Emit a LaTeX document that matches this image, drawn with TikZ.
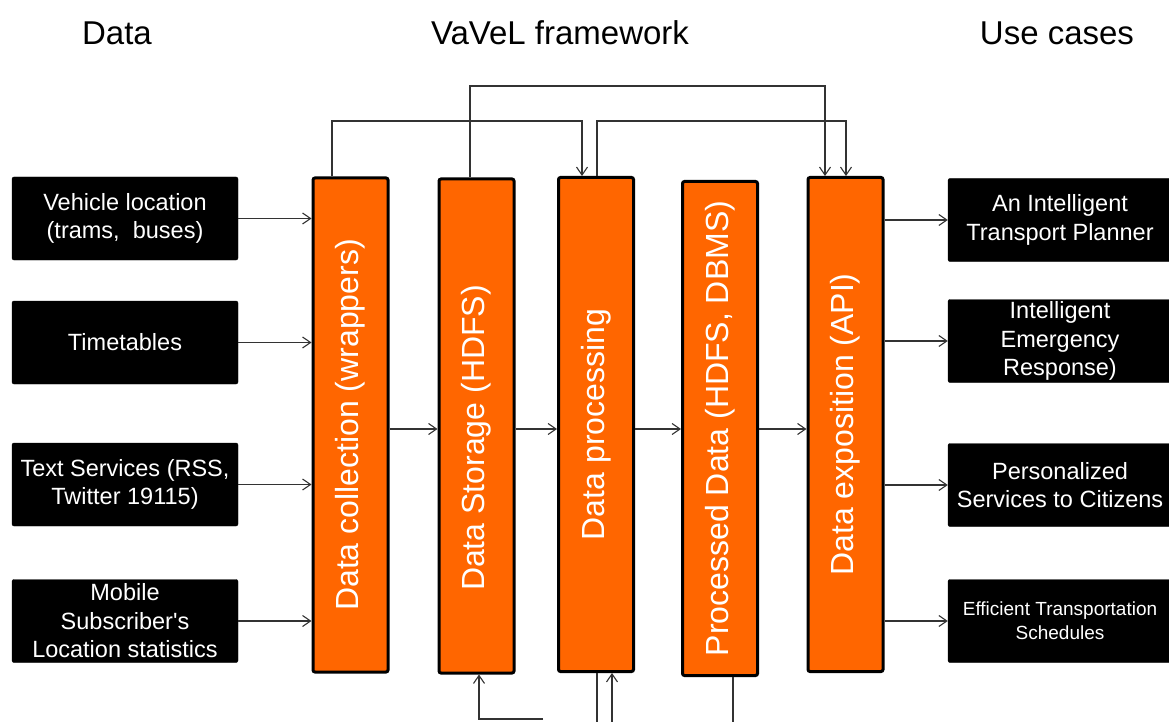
\documentclass[tikz,border=0pt]{standalone}
\usepackage{fontspec}
\setmainfont{Liberation Sans}[Ligatures=TeXOff]
\usetikzlibrary{arrows.meta}
\definecolor{vorange}{HTML}{FF6600}
\definecolor{wire}{HTML}{333333}
\tikzset{
  srcbox/.style={fill=black, draw=black, rounded corners=2pt, text=white, align=center,
    minimum width=226pt, minimum height=83pt, inner sep=2pt,
    font=\fontsize{23.5}{28.5}\selectfont},
  stage/.style={fill=vorange, draw=black, line width=3pt, rounded corners=2pt,
    minimum width=75pt, minimum height=494pt, inner sep=0pt},
  stagelabel/.style={text=white, rotate=90, font=\fontsize{32}{36}\selectfont},
  header/.style={font=\fontsize{33}{38}\selectfont},
  arr/.style={draw=wire, line width=1.2pt, -{Straight Barb[length=8pt,width=11pt,line width=1.1pt]}},
  wire/.style={draw=wire, line width=1.2pt}
}
\begin{document}
\begin{tikzpicture}[x=1pt, y=-1pt]
\useasboundingbox (0,0) rectangle (1169,722);

% column headers
\node[header] (hdata) at (117,33) {Data};
\node[header] (hfw)   at (560,33) {VaVeL framework};
\node[header] (huse)  at (1057,33) {Use cases};

% data sources
\node[srcbox] (L1) at (125,218.5) {Vehicle location\\(trams,\ \ buses)};
\node[srcbox] (L2) at (125,342.5) {Timetables};
\node[srcbox] (L3) at (125,484.5) {Text Services (RSS,\\Twitter 19115)};
\node[srcbox] (L4) at (125,621)   {Mobile\\Subscriber's\\Location statistics};

% framework stages
\node[stage] (O1) at (350.5,425)   {};
\node[stage] (O2) at (476.5,426)   {};
\node[stage] (O3) at (596,424.5)   {};
\node[stage] (O4) at (720,428.5)   {};
\node[stage] (O5) at (845.5,424.5) {};
\node[stagelabel] at (O1) {Data collection (wrappers)};
\node[stagelabel] at ([yshift=-12pt]O2.center) {Data Storage (HDFS)};
\node[stagelabel] at (O3) {Data processing};
\node[stagelabel] at (O4) {Processed Data (HDFS, DBMS)};
\node[stagelabel] at (O5) {Data exposition (API)};

% use cases
\node[srcbox, minimum width=224pt] (R1) at (1060,220) {An Intelligent\\Transport Planner};
\node[srcbox, minimum width=224pt] (R2) at (1060,341) {Intelligent\\Emergency\\Response)};
\node[srcbox, minimum width=224pt] (R3) at (1060,485) {Personalized\\Services to Citizens};
\node[srcbox, minimum width=224pt, font=\fontsize{19}{24}\selectfont] (R4) at (1060,621) {Efficient Transportation\\Schedules};

% inputs into data collection
\foreach \n in {L1,L2,L3,L4}
  \draw[arr] (\n.east) -- (\n.east -| O1.west);

% pipeline
\coordinate (mid) at (0,429);
\draw[arr] (mid -| O1.east) -- (mid -| O2.west);
\draw[arr] (mid -| O2.east) -- (mid -| O3.west);
\draw[arr] (mid -| O3.east) -- (mid -| O4.west);
\draw[arr] (mid -| O4.east) -- (mid -| O5.west);

% outputs to use cases
\draw[arr] (O5.east |- R1.west) -- (R1.west);
\draw[arr] (O5.east |- R2.west) -- (R2.west);
\draw[arr] (O5.east |- R3.west) -- (R3.west);
\draw[arr] (O5.east |- R4.west) -- (R4.west);

% feedback loops above the stages
\draw[arr] ([xshift=-18.5pt]O1.north) |- (582,121) -- ([xshift=-14pt]O3.north);
\draw[arr] ([xshift=-6.5pt]O2.north) |- (825,86) -- ([xshift=-20.5pt]O5.north);
\draw[arr] ([xshift=1pt]O3.north) |- (846,121) -- ([xshift=0.5pt]O5.north);

% links below the stages
\coordinate (b1) at (543,719);
\coordinate (b2) at (612,730);
\coordinate (b3) at (597,730);
\coordinate (b4) at (733,730);
\draw[arr] (b1) -| ([xshift=2.5pt]O2.south);
\draw[arr] (b2) -- (b2 |- O3.south);
\draw[wire] (b3 |- O3.south) -- (b3);
\draw[wire] (b4 |- O4.south) -- (b4);
\end{tikzpicture}
\end{document}
